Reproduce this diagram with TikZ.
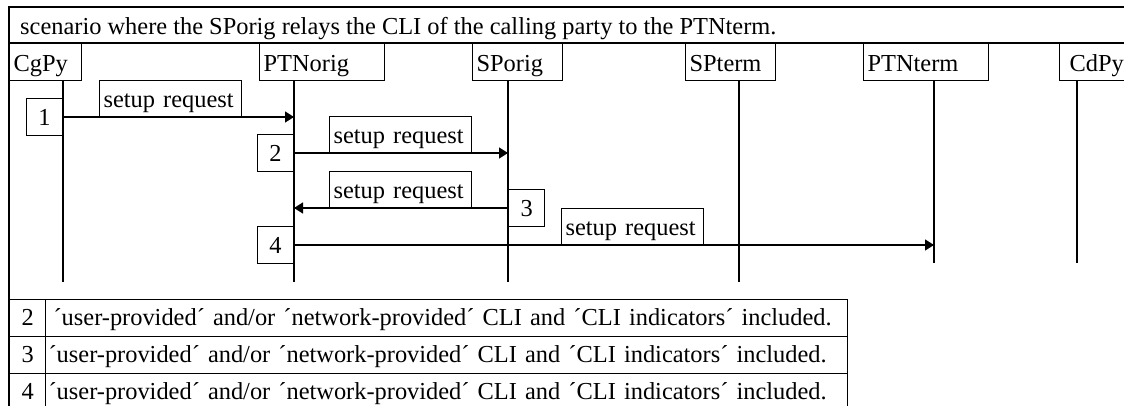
\documentclass[tikz,border=0pt]{standalone}
\usepackage{fontspec}
\setmainfont{Liberation Serif}
\usetikzlibrary{arrows.meta,positioning}
\tikzset{
    %Define standard arrow tip
    >={Triangle[length=9pt,width=11pt]},
    % frame lines
    frame/.style={
           line width=1.5pt,
           },
    % lifelines and messages
    life/.style={
           line width=1.3pt,
           },
    msg/.style={
           ->,
           line width=1.3pt,
           },
    % boxes
    actor/.style={
           draw, line width=1.2pt, anchor=north west,
           inner xsep=4pt, inner ysep=0pt,
           text height=28pt, text depth=9pt,
           text width=#1, align=left,
           },
    lbl/.style={
           draw, line width=1.2pt, anchor=south west,
           inner xsep=4pt, inner ysep=0pt,
           text height=27pt, text depth=9pt,
           text width=134pt, align=left,
           },
    num/.style={
           draw, line width=1.2pt,
           inner sep=0pt, minimum width=36pt,
           text height=27pt, text depth=10pt,
           },
    cell/.style={
           draw, line width=1.2pt, anchor=north west,
           inner xsep=3pt, inner ysep=0pt,
           text height=26pt, text depth=11pt,
           text width=#1, align=left,
           }
}

\begin{document}
\begin{tikzpicture}[x=1pt,y=-1pt,font=\fontsize{24.4}{29}\selectfont]
  	\useasboundingbox (0,0) rectangle (1124,406);
  	\clip (0,0) rectangle (1124,406);
  	\draw[frame] (9,420) -- (9,7) -- (1140,7);
  	\draw[frame] (9,43) -- (1140,43);
  	\node[anchor=base west, inner sep=0pt] (title) at (20,35) {scenario where the SPorig relays the CLI of the calling party to the PTNterm.};
  	% parties
  	\node[actor=64pt] (cgpy) at (9,43) {CgPy};
  	\node[actor=117pt] (ptnorig) at (259,43) {PTNorig};
  	\node[actor=82pt] (sporig) at (472,43) {SPorig};
  	\node[actor=82pt] (spterm) at (685,43) {SPterm};
  	\node[actor=117pt] (ptnterm) at (863,43) {PTNterm};
  	\node[actor=105pt, inner xsep=10pt] (cdpy) at (1059,43) {CdPy};
  	\coordinate (lcgpy) at (63,80);
  	\coordinate (lptnorig) at (294,80);
  	\coordinate (lsporig) at (508,80);
  	\coordinate (lspterm) at (739,80);
  	\coordinate (lptnterm) at (934,80);
  	\coordinate (lcdpy) at (1077,80);
  	\foreach \c/\l in {lcgpy/202,lptnorig/202,lsporig/202,lspterm/202,lptnterm/183,lcdpy/183}
  		\draw[life] (\c) -- ++(0,\l);
  	% messages
  	\node[num, anchor=east] (one) at (63,117) {1};
  	\node[num, anchor=east] (two) at (294,153) {2};
  	\node[num, anchor=west] (three) at (508,208) {3};
  	\node[num, anchor=east] (four) at (294,245) {4};
  	\node[lbl] (req1) at (99,117) {setup request};
  	\node[lbl] (req2) at (329,153) {setup request};
  	\node[lbl] (req3) at (329,208) {setup request};
  	\node[lbl] (req4) at (561,245) {setup request};
  	\draw[msg] (one.east) -- (one.east -| lptnorig);
  	\draw[msg] (two.east) -- (two.east -| lsporig);
  	\draw[msg] (three.west) -- (three.west -| lptnorig);
  	\draw[msg] (four.east) -- (four.east -| lptnterm);
  	% notes
  	\node[cell=30pt, align=center] (n2) at (9,299) {2};
  	\node[cell=796pt] (t2) at (45,299) {\hspace*{5pt}´user-provided´ and/or ´network-provided´ CLI and ´CLI indicators´ included.};
  	\node[cell=30pt, align=center] (n3) at (9,336) {3};
  	\node[cell=796pt] (t3) at (45,336) {´user-provided´ and/or ´network-provided´ CLI and ´CLI indicators´ included.};
  	\node[cell=30pt, align=center] (n4) at (9,373) {4};
  	\node[cell=796pt] (t4) at (45,373) {´user-provided´ and/or ´network-provided´ CLI and ´CLI indicators´ included.};
\end{tikzpicture}
\end{document}
